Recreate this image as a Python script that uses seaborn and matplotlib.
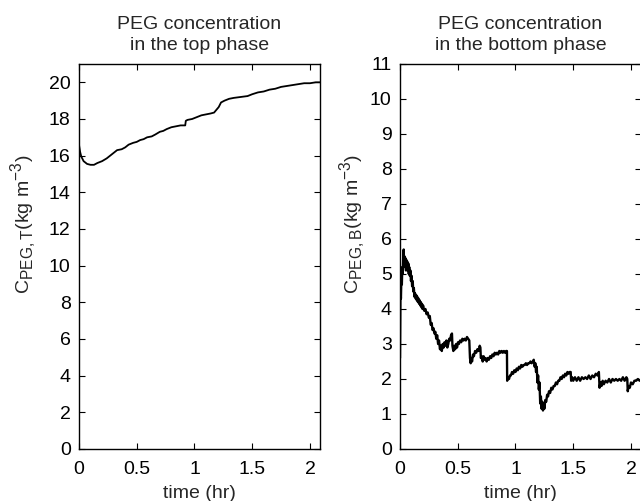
import matplotlib
matplotlib.use("Agg")
import matplotlib.pyplot as plt
import matplotlib._mathtext as _mt
import seaborn as sns
import pandas as pd

# ---- data ----
t_top = [0.000, 0.010, 0.020, 0.040, 0.070, 0.100, 0.130, 0.160, 0.200, 0.240,
         0.270, 0.300, 0.330, 0.370, 0.400, 0.430, 0.470, 0.500, 0.530, 0.560,
         0.590, 0.630, 0.660, 0.700, 0.730, 0.760, 0.800, 0.840, 0.880, 0.920,
         0.925, 0.940, 0.980, 1.020, 1.060, 1.100, 1.140, 1.170, 1.190, 1.210,
         1.230, 1.260, 1.300, 1.340, 1.400, 1.460, 1.500, 1.550, 1.600, 1.650,
         1.700, 1.750, 1.800, 1.850, 1.900, 1.950, 2.000, 2.050, 2.090]
c_top = [16.6, 16.2, 15.95, 15.7, 15.55, 15.5, 15.5, 15.6, 15.7, 15.85,
         16.0, 16.15, 16.3, 16.35, 16.45, 16.6, 16.7, 16.75, 16.85, 16.9,
         17.0, 17.05, 17.15, 17.3, 17.35, 17.45, 17.55, 17.6, 17.65, 17.65,
         17.9, 17.95, 18.0, 18.1, 18.2, 18.25, 18.3, 18.35, 18.5, 18.65,
         18.9, 19.0, 19.1, 19.15, 19.2, 19.25, 19.35, 19.45, 19.5, 19.6,
         19.65, 19.75, 19.8, 19.85, 19.9, 19.95, 19.95, 20.0, 20.0]

t_bot = [0.000, 0.002, 0.004, 0.008, 0.012, 0.016, 0.020, 0.024, 0.028, 0.032,
         0.036, 0.040, 0.044, 0.048, 0.052, 0.056, 0.060, 0.064, 0.068, 0.072,
         0.076, 0.080, 0.085, 0.090, 0.095, 0.100, 0.105, 0.110, 0.115, 0.120,
         0.125, 0.130, 0.135, 0.140, 0.145, 0.150, 0.155, 0.160, 0.165, 0.170,
         0.175, 0.180, 0.185, 0.190, 0.195, 0.200, 0.210, 0.220, 0.230, 0.240,
         0.250, 0.258, 0.266, 0.274, 0.282, 0.290, 0.298, 0.306, 0.314, 0.322,
         0.330, 0.338, 0.346, 0.354, 0.362, 0.370, 0.378, 0.386, 0.394, 0.402,
         0.410, 0.418, 0.426, 0.434, 0.442, 0.450, 0.454, 0.462, 0.470, 0.478,
         0.486, 0.494, 0.502, 0.510, 0.520, 0.530, 0.540, 0.550, 0.560, 0.570,
         0.580, 0.590, 0.600, 0.606, 0.612, 0.618, 0.624, 0.632, 0.640, 0.650,
         0.660, 0.670, 0.680, 0.690, 0.696, 0.700, 0.708, 0.716, 0.724, 0.732,
         0.740, 0.750, 0.760, 0.770, 0.780, 0.790, 0.800, 0.810, 0.820, 0.830,
         0.840, 0.850, 0.860, 0.870, 0.880, 0.890, 0.900, 0.910, 0.920, 0.926,
         0.928, 0.936, 0.944, 0.952, 0.960, 0.970, 0.980, 0.990, 1.000, 1.010,
         1.020, 1.030, 1.040, 1.050, 1.060, 1.070, 1.080, 1.090, 1.100, 1.110,
         1.120, 1.130, 1.140, 1.150, 1.158, 1.166, 1.172, 1.178, 1.184, 1.190,
         1.196, 1.202, 1.208, 1.214, 1.220, 1.226, 1.232, 1.238, 1.244, 1.250,
         1.258, 1.266, 1.274, 1.282, 1.290, 1.300, 1.310, 1.320, 1.330, 1.340,
         1.350, 1.360, 1.370, 1.380, 1.390, 1.400, 1.410, 1.420, 1.430, 1.440,
         1.450, 1.460, 1.470, 1.478, 1.482, 1.490, 1.500, 1.515, 1.530, 1.545,
         1.560, 1.575, 1.590, 1.605, 1.620, 1.635, 1.650, 1.665, 1.680, 1.695,
         1.710, 1.722, 1.728, 1.735, 1.745, 1.755, 1.765, 1.780, 1.795, 1.810,
         1.825, 1.840, 1.855, 1.870, 1.885, 1.900, 1.915, 1.930, 1.945, 1.960,
         1.968, 1.972, 1.980, 1.990, 2.000, 2.015, 2.030, 2.045, 2.060, 2.075,
         2.090]
c_bot = [2.6, 3.8, 4.5, 4.3, 4.9, 4.7, 5.2, 5.0, 5.5, 5.7,
         5.2, 5.5, 5.2, 5.45, 5.1, 5.4, 5.15, 5.35, 5.1, 5.3,
         5.0, 5.2, 4.95, 5.1, 4.8, 4.95, 4.65, 4.8, 4.5, 4.6,
         4.35, 4.45, 4.3, 4.4, 4.25, 4.35, 4.2, 4.3, 4.15, 4.25,
         4.1, 4.2, 4.05, 4.15, 4.0, 4.1, 3.95, 4.0, 3.85, 3.9,
         3.75, 3.8, 3.55, 3.6, 3.4, 3.45, 3.3, 3.35, 3.15, 3.25,
         3.0, 3.1, 2.85, 2.95, 2.8, 3.0, 2.9, 3.05, 2.95, 3.1,
         2.9, 3.0, 3.15, 3.1, 3.25, 3.3, 2.95, 2.8, 2.95, 2.85,
         3.0, 2.9, 3.05, 3.0, 3.1, 3.05, 3.15, 3.1, 3.15, 3.1,
         3.2, 3.15, 3.1, 2.6, 2.45, 2.6, 2.5, 2.7, 2.65, 2.8,
         2.75, 2.85, 2.8, 2.95, 2.9, 2.6, 2.65, 2.5, 2.65, 2.55,
         2.6, 2.5, 2.6, 2.55, 2.65, 2.6, 2.7, 2.65, 2.75, 2.7,
         2.75, 2.7, 2.8, 2.75, 2.8, 2.75, 2.8, 2.75, 2.8, 2.8,
         1.95, 2.05, 2.0, 2.1, 2.1, 2.2, 2.15, 2.25, 2.2, 2.3,
         2.25, 2.35, 2.3, 2.4, 2.35, 2.4, 2.4, 2.45, 2.4, 2.45,
         2.45, 2.5, 2.45, 2.5, 2.55, 2.35, 2.45, 2.2, 2.35, 1.9,
         2.1, 1.7, 1.9, 1.3, 1.5, 1.15, 1.35, 1.1, 1.3, 1.15,
         1.4, 1.35, 1.55, 1.5, 1.65, 1.6, 1.75, 1.7, 1.8, 1.8,
         1.9, 1.85, 1.95, 1.95, 2.05, 2.0, 2.1, 2.05, 2.15, 2.1,
         2.2, 2.15, 2.2, 2.2, 1.95, 2.05, 1.95, 2.05, 1.95, 2.05,
         1.95, 2.05, 2.0, 2.05, 2.0, 2.1, 2.0, 2.1, 2.05, 2.15,
         2.1, 2.2, 1.75, 1.9, 1.8, 1.95, 1.85, 1.95, 1.9, 2.0,
         1.9, 2.0, 1.95, 2.0, 1.95, 2.0, 1.95, 2.05, 1.95, 2.05,
         2.0, 1.65, 1.8, 1.75, 1.9, 1.85, 1.95, 1.95, 2.0, 1.95,
         2.0]

x_ticks = [0, 0.5, 1, 1.5, 2]
x_ticklabels = ["0", "0.5", "1", "1.5", "2"]
y_ticks_top = [0, 2, 4, 6, 8, 10, 12, 14, 16, 18, 20]
y_ticks_bot = [0, 1, 2, 3, 4, 5, 6, 7, 8, 9, 10, 11]
titles = ["PEG concentration\nin the top phase", "PEG concentration\nin the bottom phase"]
ylabels = [r"C$_{\mathregular{PEG,T}}$(kg m$^{\mathregular{-3}}$)",
           r"C$_{\mathregular{PEG,B}}$(kg m$^{\mathregular{-3}}$)"]
xlabel = "time (hr)"

FS = 14

# larger sub/superscripts, closer to the reference
try:
    _mt.SHRINK_FACTOR = 0.8
except Exception:
    pass

sns.set_theme(style="ticks")
plt.rcParams["font.family"] = ["Liberation Sans", "DejaVu Sans"]
plt.rcParams["mathtext.fontset"] = "custom"
plt.rcParams["mathtext.rm"] = "Liberation Sans"
plt.rcParams["xtick.direction"] = "in"
plt.rcParams["ytick.direction"] = "in"

fig = plt.figure(figsize=(6.4, 5.01), dpi=100)
ax1 = fig.add_axes([0.1234, 0.1038, 0.3766, 0.7685])
ax2 = fig.add_axes([0.625, 0.1038, 0.3766, 0.7685])

df_top = pd.DataFrame({"t": t_top, "c": c_top})
df_bot = pd.DataFrame({"t": t_bot, "c": c_bot})

sns.lineplot(data=df_top, x="t", y="c", ax=ax1, color="black", linewidth=1.3,
             estimator=None, sort=False)
sns.lineplot(data=df_bot, x="t", y="c", ax=ax2, color="black", linewidth=1.7,
             estimator=None, sort=False)

for ax, yt, ylim, title, ylab, lx in [(ax1, y_ticks_top, 21, titles[0], ylabels[0], -0.167),
                                      (ax2, y_ticks_bot, 11, titles[1], ylabels[1], -0.134)]:
    ax.set_xlim(0, 2.087)
    ax.set_ylim(0, ylim)
    ax.set_xticks(x_ticks)
    ax.set_xticklabels(x_ticklabels)
    ax.set_yticks(yt)
    ax.tick_params(axis="both", which="both", direction="in", length=4, width=0.8,
                   labelsize=FS, top=True, right=True, colors="black", pad=6)
    ax.tick_params(axis="x", pad=9)
    for s in ax.spines.values():
        s.set_visible(True)
        s.set_linewidth(1.0)
        s.set_color("black")
    ax.set_title(title, fontsize=FS, pad=10, linespacing=1.3)
    ax.set_xlabel(xlabel, fontsize=FS, labelpad=5)
    ax.set_ylabel(ylab, fontsize=FS)
    ax.yaxis.set_label_coords(lx, 0.584)

fig.savefig("out.png", dpi=100)
